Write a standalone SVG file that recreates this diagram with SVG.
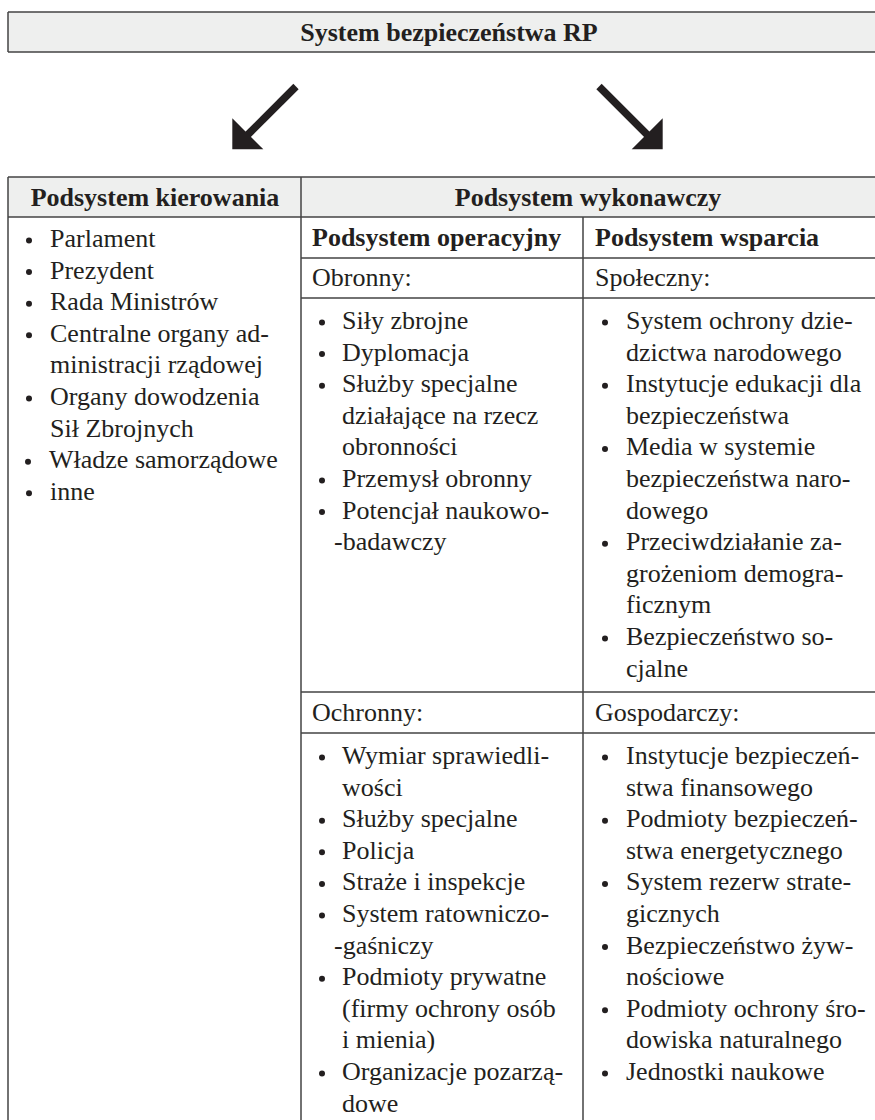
<svg xmlns="http://www.w3.org/2000/svg" width="875" height="1120" viewBox="0 0 875 1120">
<style>
  text { font-family: "Liberation Serif", "Times New Roman", serif; font-size: 26px; fill: #231f20; }
  .b { font-weight: bold; }
  .m { text-anchor: middle; }
  .fill { fill: #eeefee; stroke: none; }
  .ln { stroke: #444444; stroke-width: 1.5; fill: none; }
  .dot { fill: #231f20; }
  .arrow { fill: #231f20; stroke: none; }
</style>
<defs>
  <circle id="bul" r="3" class="dot"/>
</defs>
<rect width="875" height="1120" fill="#ffffff"/>

<g id="title">
  <rect x="8" y="12" width="880" height="40" class="fill"/>
  <path class="ln" d="M8 12 H875 M8 52 H875 M8 12 V52"/>
  <text x="449" y="41" class="b m">System bezpieczeństwa RP</text>
</g>

<g id="connectors">
  <g id="arrow-left">
    <line x1="296" y1="86.5" x2="246" y2="136.5" stroke="#231f20" stroke-width="7.5"/>
    <polygon class="arrow" points="232.3,118.3 232.3,149.3 263.3,149.3"/>
  </g>
  <g id="arrow-right">
    <line x1="599" y1="86.5" x2="649" y2="136.5" stroke="#231f20" stroke-width="7.5"/>
    <polygon class="arrow" points="662.7,118.3 662.7,149.3 631.7,149.3"/>
  </g>
</g>

<g id="table-grid">
  <rect x="8" y="177" width="880" height="40" class="fill"/>
  <path class="ln" d="M8 177 H875 M8 217 H875 M301 258 H875 M301 298 H875 M301 692 H875 M301 733 H875 M8 177 V1120 M301 177 V1120 M583 217 V1120"/>
</g>

<g id="podsystem-kierowania">
  <text x="155" y="206" class="b m">Podsystem kierowania</text>
  <use href="#bul" x="29" y="240.5"/><text x="50" y="247">Parlament</text>
  <use href="#bul" x="29" y="272.1"/><text x="50" y="278.6">Prezydent</text>
  <use href="#bul" x="29" y="303.7"/><text x="50" y="310.2">Rada Ministrów</text>
  <use href="#bul" x="29" y="335.3"/><text x="50" y="341.8">Centralne organy ad-</text>
  <text x="50" y="373.4">ministracji rządowej</text>
  <use href="#bul" x="29" y="398.5"/><text x="50" y="405">Organy dowodzenia</text>
  <text x="50" y="436.6">Sił Zbrojnych</text>
  <use href="#bul" x="28" y="461.7"/><text x="49" y="468.2">Władze samorządowe</text>
  <use href="#bul" x="29" y="493.3"/><text x="50" y="499.8">inne</text>
</g>

<g id="podsystem-wykonawczy">
  <text x="588" y="206" class="b m">Podsystem wykonawczy</text>
</g>

<g id="podsystem-operacyjny">
  <text x="312" y="246" class="b">Podsystem operacyjny</text>
</g>

<g id="podsystem-wsparcia">
  <text x="595" y="246" class="b">Podsystem wsparcia</text>
</g>

<g id="obronny">
  <text x="312" y="286">Obronny:</text>
  <use href="#bul" x="322" y="322.5"/><text x="342" y="329">Siły zbrojne</text>
  <use href="#bul" x="322" y="354.1"/><text x="342" y="360.6">Dyplomacja</text>
  <use href="#bul" x="322" y="385.7"/><text x="342" y="392.2">Służby specjalne</text>
  <text x="342" y="423.8">działające na rzecz</text>
  <text x="342" y="455.4">obronności</text>
  <use href="#bul" x="322" y="480.5"/><text x="342" y="487">Przemysł obronny</text>
  <use href="#bul" x="322" y="512.1"/><text x="342" y="518.6">Potencjał naukowo-</text>
  <text x="334" y="550.2">-badawczy</text>
</g>

<g id="spoleczny">
  <text x="595" y="286">Społeczny:</text>
  <use href="#bul" x="605" y="322.5"/><text x="626" y="329">System ochrony dzie-</text>
  <text x="626" y="360.6">dzictwa narodowego</text>
  <use href="#bul" x="605" y="385.7"/><text x="626" y="392.2">Instytucje edukacji dla</text>
  <text x="626" y="423.8">bezpieczeństwa</text>
  <use href="#bul" x="605" y="448.9"/><text x="626" y="455.4">Media w systemie</text>
  <text x="626" y="487">bezpieczeństwa naro-</text>
  <text x="626" y="518.6">dowego</text>
  <use href="#bul" x="605" y="543.7"/><text x="626" y="550.2">Przeciwdziałanie za-</text>
  <text x="626" y="581.8">grożeniom demogra-</text>
  <text x="626" y="613.4">ficznym</text>
  <use href="#bul" x="605" y="638.5"/><text x="626" y="645">Bezpieczeństwo so-</text>
  <text x="626" y="676.6">cjalne</text>
</g>

<g id="ochronny">
  <text x="312" y="721">Ochronny:</text>
  <use href="#bul" x="322" y="757.5"/><text x="342" y="764">Wymiar sprawiedli-</text>
  <text x="342" y="795.6">wości</text>
  <use href="#bul" x="322" y="820.7"/><text x="342" y="827.2">Służby specjalne</text>
  <use href="#bul" x="322" y="852.3"/><text x="342" y="858.8">Policja</text>
  <use href="#bul" x="322" y="883.9"/><text x="342" y="890.4">Straże i inspekcje</text>
  <use href="#bul" x="322" y="915.5"/><text x="342" y="922">System ratowniczo-</text>
  <text x="334" y="953.6">-gaśniczy</text>
  <use href="#bul" x="322" y="978.7"/><text x="342" y="985.2">Podmioty prywatne</text>
  <text x="342" y="1016.8">(firmy ochrony osób</text>
  <text x="342" y="1048.4">i mienia)</text>
  <use href="#bul" x="322" y="1073.5"/><text x="342" y="1080">Organizacje pozarzą-</text>
  <text x="342" y="1111.6">dowe</text>
</g>

<g id="gospodarczy">
  <text x="595" y="721">Gospodarczy:</text>
  <use href="#bul" x="605" y="757.5"/><text x="626" y="764">Instytucje bezpieczeń-</text>
  <text x="626" y="795.6">stwa finansowego</text>
  <use href="#bul" x="605" y="820.7"/><text x="626" y="827.2">Podmioty bezpieczeń-</text>
  <text x="626" y="858.8">stwa energetycznego</text>
  <use href="#bul" x="605" y="883.9"/><text x="626" y="890.4">System rezerw strate-</text>
  <text x="626" y="922">gicznych</text>
  <use href="#bul" x="605" y="947.1"/><text x="626" y="953.6">Bezpieczeństwo żyw-</text>
  <text x="626" y="985.2">nościowe</text>
  <use href="#bul" x="605" y="1010.3"/><text x="626" y="1016.8">Podmioty ochrony śro-</text>
  <text x="626" y="1048.4">dowiska naturalnego</text>
  <use href="#bul" x="605" y="1073.5"/><text x="626" y="1080">Jednostki naukowe</text>
</g>
</svg>
